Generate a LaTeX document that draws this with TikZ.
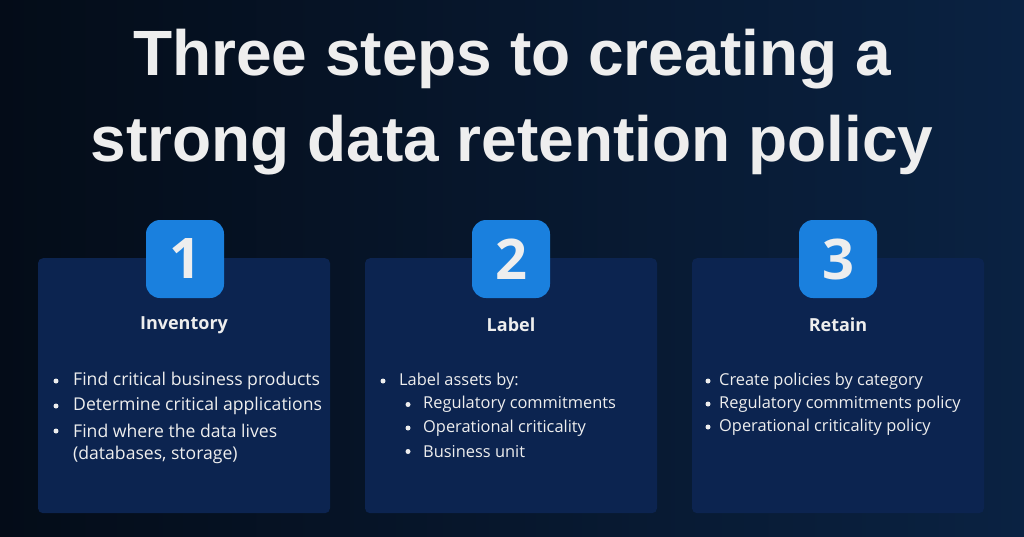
\documentclass[tikz,border=0pt]{standalone}
\usepackage{fontspec}
\setmainfont{Open Sans}
\newfontfamily\titlefont{Liberation Sans}
\usetikzlibrary{positioning}
\definecolor{bgdark}{RGB}{4,12,24}
\definecolor{bgnavy}{RGB}{10,34,66}
\definecolor{boxblue}{RGB}{12,36,80}
\definecolor{badgeblue}{RGB}{26,128,222}
\definecolor{txtwhite}{RGB}{238,238,238}

\tikzset{%
  % Specifications for style of nodes:
     stepcard/.style = {rectangle, rounded corners=5pt, fill=boxblue, minimum width=292pt, minimum height=255pt, anchor=north},
    numbadge/.style  = {rectangle, rounded corners=14pt, fill=badgeblue, minimum size=78pt, text=txtwhite, font=\fontsize{56}{56}\selectfont\bfseries},
    cardhead/.style  = {text=txtwhite, font=\fontsize{18}{21}\selectfont\bfseries},
    item/.style      = {anchor=west, text=txtwhite, inner sep=0pt, font=\fontsize{17.6}{20}\selectfont},
    subitem/.style   = {item, font=\fontsize{16.4}{19}\selectfont},
    dot/.style       = {circle, fill=txtwhite, inner sep=0pt, minimum size=5pt},
}

\begin{document}
\begin{tikzpicture}[x=1pt, y=-1pt]
    % Background
    \shade[left color=bgdark, right color=bgnavy] (0,0) rectangle (1024,536);
    \useasboundingbox (0,0) rectangle (1024,536);

    % Title
    \node (title) [text=txtwhite, align=center, font=\titlefont\fontsize{64}{86}\selectfont\bfseries] at (512,102)
        {Three steps to creating a\\strong data retention policy};

    % Cards
    \node (card1) [stepcard] at (184,258) {};
    \node (card2) [stepcard] at (511,258) {};
    \node (card3) [stepcard] at (838,258) {};

    % Badges
    \node (badge1) [numbadge] at (185,259) {1};
    \node (badge2) [numbadge] at (511,259) {2};
    \node (badge3) [numbadge] at (838,259) {3};

    % Headings
    \node (head1) [cardhead] at (184,325) {Inventory};
    \node (head2) [cardhead] at (511,325) {Label};
    \node (head3) [cardhead] at (838,325) {Retain};

    % Inventory items
    \node [dot] at (56,381) {};
    \node (inv1) [item] at (73,381) {Find critical business products};
    \node [dot] at (56,406) {};
    \node (inv2) [item] at (73,406) {Determine critical applications};
    \node [dot] at (56,431) {};
    \node (inv3) [item] at (73,431) {Find where the data lives};
    \node (inv4) [item] at (73,455) {(databases, storage)};

    % Label items
    \node [dot] at (383,381) {};
    \node (lab0) [subitem] at (399,381) {Label assets by:};
    \foreach \txt [count=\i] in {Regulatory commitments, Operational criticality, Business unit} {
        \node [dot] at (408,381+23.5*\i) {};
        \node (lab\i) [subitem] at (423,381+23.5*\i) {\txt};
    }

    % Retain items
    \foreach \txt [count=\i] in {Create policies by category, Regulatory commitments policy, Operational criticality policy} {
        \node [dot] at (708,358+23*\i) {};
        \node (ret\i) [subitem] at (719,358+23*\i) {\txt};
    }

\end{tikzpicture}
\end{document}
